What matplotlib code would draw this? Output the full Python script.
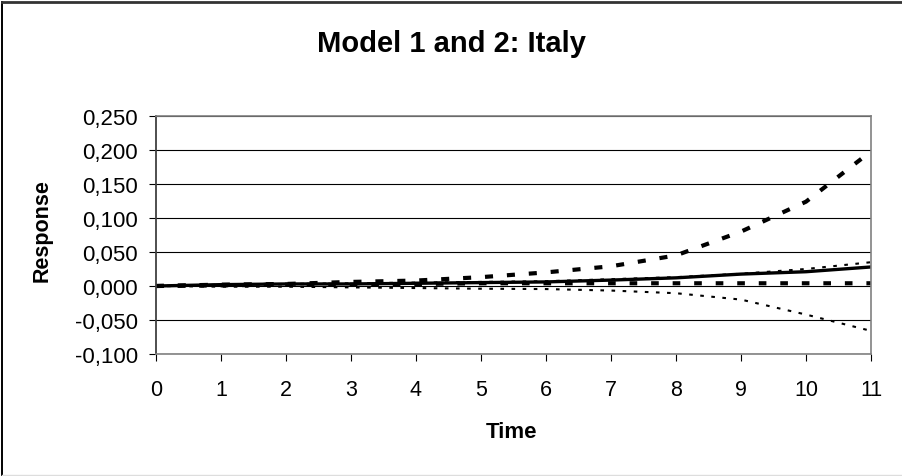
import matplotlib
matplotlib.use("Agg")
import matplotlib.pyplot as plt
from matplotlib.lines import Line2D
from matplotlib.ticker import FuncFormatter, MultipleLocator

plt.rcParams["font.family"] = ["Liberation Sans", "DejaVu Sans"]
plt.rcParams["lines.scale_dashes"] = False

# impulse responses
time = [0, 1, 2, 3, 4, 5, 6, 7, 8, 9, 10, 11]
resp_point = [0, 0.002, 0.003, 0.003, 0.004, 0.005, 0.006, 0.0087, 0.012, 0.0175, 0.021, 0.028]
resp_upper_m2 = [0, 0.002, 0.003, 0.006, 0.008, 0.013, 0.020, 0.029, 0.045, 0.080, 0.124, 0.198]
resp_lower_m2 = [0, 0.001, 0.002, 0.002, 0.003, 0.004, 0.004, 0.004, 0.004, 0.004, 0.004, 0.004]
resp_upper_m1 = [0, 0.002, 0.003, 0.004, 0.005, 0.006, 0.007, 0.010, 0.013, 0.018, 0.025, 0.035]
resp_lower_m1 = [0, -0.001, -0.001, -0.002, -0.003, -0.004, -0.0045, -0.0067, -0.0106, -0.020, -0.042, -0.066]

W, H = 903, 477
fig = plt.figure(figsize=(W / 100, H / 100), dpi=100, facecolor="white")

# outer chart frame
fig.add_artist(Line2D([2 / W, 2 / W], [1 - 476 / H, 1 - 3 / H], color="black", lw=1.4))
fig.add_artist(Line2D([2 / W, 1.0], [1 - 3 / H, 1 - 3 / H], color="#333333", lw=2.0))
fig.add_artist(Line2D([2 / W, 1.0], [1 - 476 / H, 1 - 476 / H], color="#dddddd", lw=1.0))

ax = fig.add_axes([156 / W, 1 - 355 / H, (871 - 156) / W, (355 - 117) / H])

ax.plot(time, resp_lower_m1, color="black", lw=1.5, dashes=(2.6, 5.4), dash_capstyle="butt")
ax.plot(time, resp_upper_m1, color="black", lw=1.5, dashes=(2.6, 5.4), dash_capstyle="butt")
ax.plot(time, resp_lower_m2, color="black", lw=3.0, dashes=(5.5, 10.0), dash_capstyle="butt")
ax.plot(time, resp_upper_m2, color="black", lw=3.0, dashes=(5.8, 10.0), dash_capstyle="butt")
ax.plot(time, resp_point, color="black", lw=2.4, solid_capstyle="butt")

ax.set_xlim(0, 11)
ax.set_ylim(-0.1, 0.25)
ax.set_xticks(time)
ax.yaxis.set_major_locator(MultipleLocator(0.05))
ax.yaxis.set_major_formatter(FuncFormatter(lambda v, p: f"{v:.3f}".replace(".", ",")))

ax.grid(axis="y", color="black", lw=0.8)
ax.set_axisbelow(True)
for side in ["top", "right", "bottom"]:
    ax.spines[side].set_color("#808080")
    ax.spines[side].set_linewidth(1.2)
ax.spines["left"].set_color("#404040")
ax.spines["left"].set_linewidth(1.3)

ax.tick_params(axis="y", direction="out", length=5, width=0.8, pad=8, labelsize=16, colors="black")
ax.tick_params(axis="x", direction="out", length=5, width=0.8, pad=13, labelsize=15.5, colors="black")

fig.text(452 / W, 1 - 52 / H, "Model 1 and 2: Italy", ha="center", va="baseline",
         fontsize=21, fontweight="bold")
fig.text(42 / W, 1 - 231 / H, "Response", ha="center", va="center", rotation=90,
         fontsize=15.5, fontweight="bold")
fig.text(512 / W, 1 - 433 / H, "Time", ha="center", va="center",
         fontsize=16, fontweight="bold")

fig.savefig("out.png", dpi=100, facecolor="white")
